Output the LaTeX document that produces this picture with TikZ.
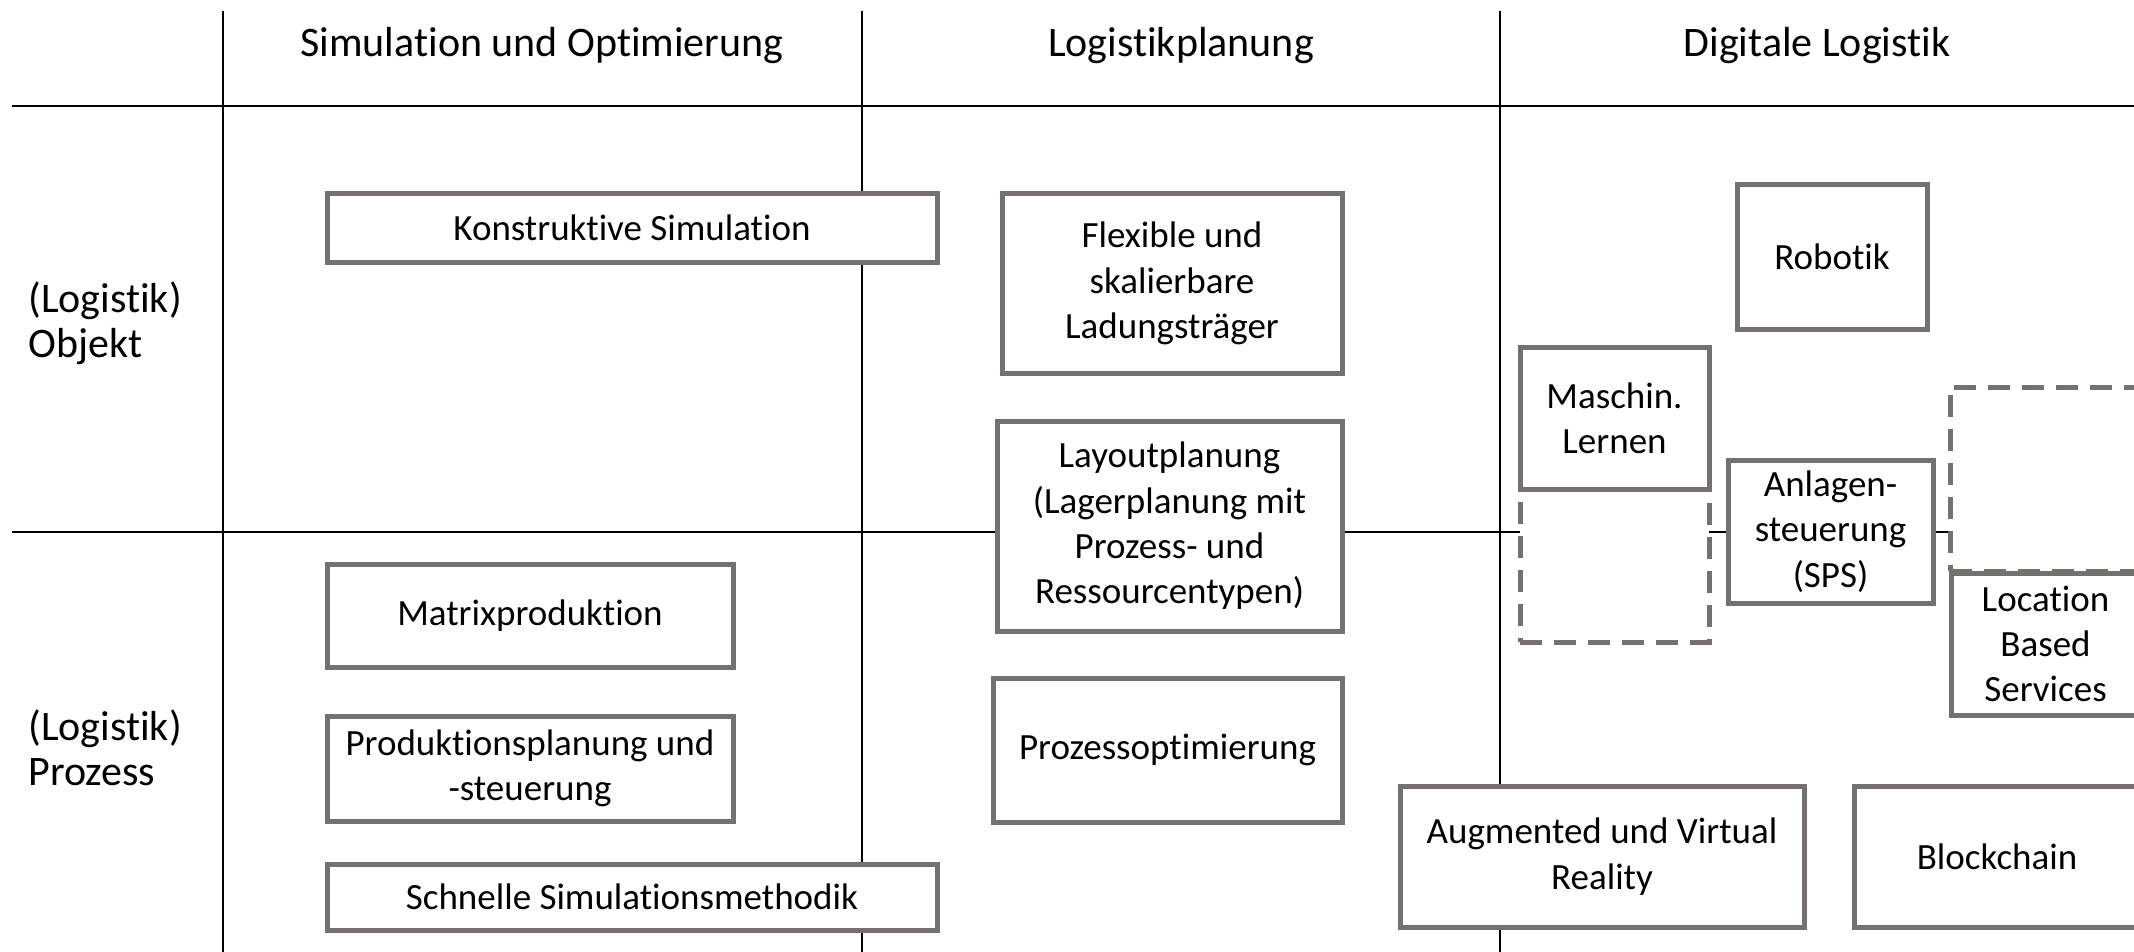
\documentclass[tikz,border=0pt]{standalone}
\usepackage{fontspec}
\setmainfont{Carlito}[Ligatures=NoCommon]
\definecolor{boxgray}{RGB}{118,113,113}
\begin{document}
\begin{tikzpicture}[x=0.5pt,y=-0.5pt,
  gridline/.style={line width=1.1pt,black},
  box/.style={draw=boxgray,line width=2.5pt,fill=white,inner sep=0pt,align=center,
    font=\fontsize{18.5}{22.7}\selectfont},
  dbox/.style={draw=boxgray,line width=2.5pt,fill=white,inner sep=0pt,dash pattern=on 11pt off 6pt},
  head/.style={font=\fontsize{21}{25}\selectfont,inner sep=0pt},
  rowlab/.style={font=\fontsize{21}{22.5}\selectfont,align=left,anchor=west,inner sep=0pt}]
\clip (0,0) rectangle (2134,952);
\fill[white] (0,0) rectangle (2134,952);
% grid
\coordinate (h1a) at (12,106);   \coordinate (h1b) at (2134,106);
\coordinate (h2a) at (12,532);   \coordinate (h2b) at (2134,532);
\coordinate (v1a) at (223,11);   \coordinate (v1b) at (223,952);
\coordinate (v2a) at (862,11);   \coordinate (v2b) at (862,952);
\coordinate (v3a) at (1500,11);  \coordinate (v3b) at (1500,952);
\draw[gridline] (h1a) -- (h1b);
\draw[gridline] (h2a) -- (h2b);
\draw[gridline] (v1a) -- (v1b);
\draw[gridline] (v2a) -- (v2b);
\draw[gridline] (v3a) -- (v3b);
% headers
\node[head] (hd1) at (542,46) {Simulation und Optimierung};
\node[head] (hd2) at (1181,46) {Logistikplanung};
\node[head] (hd3) at (1817,46) {Digitale Logistik};
% row labels
\node[rowlab] (r1) at (28,323) {(Logistik)\\Objekt};
\node[rowlab] (r2) at (28,748) {(Logistik)\\Prozess};
% column 1
\node[box,minimum width=305pt,minimum height=34pt] (ks) at (632,228) {Konstruktive Simulation};
\node[box,minimum width=203pt,minimum height=51.5pt] (mp) at (530,615.5) {Matrixproduktion};
\node[box,minimum width=203pt,minimum height=52.5pt] (pps) at (530,768.5) {Produktionsplanung und\\-steuerung};
\node[box,minimum width=305pt,minimum height=33pt] (ssm) at (632,897) {Schnelle Simulationsmethodik};
% column 2
\node[box,minimum width=170pt,minimum height=89.5pt] (flex) at (1172,283.5) {Flexible und\\skalierbare\\Ladungsträger};
\node[box,minimum width=172.5pt,minimum height=105pt] (lay) at (1169.5,526) {Layoutplanung\\(Lagerplanung mit\\Prozess- und\\Ressourcentypen)};
\node[box,minimum width=174.5pt,minimum height=72pt] (po) at (1167.5,750) {Prozessoptimierung};
% column 3
\node[dbox,minimum width=94.5pt,minimum height=76.5pt] (mlx) at (1614.5,565.5) {};
\node[dbox,minimum width=105pt,minimum height=92pt] (rx) at (2055,479) {};
\node[box,minimum width=95pt,minimum height=72pt] (rob) at (1832,257) {Robotik};
\node[box,minimum width=94.5pt,minimum height=71pt] (ml) at (1614.5,418) {Maschin.\\Lernen};
\node[box,minimum width=102.5pt,minimum height=71.5pt] (sps) at (1830.5,531.5) {Anlagen-\\steuerung\\(SPS)};
\node[box,minimum width=94.5pt,minimum height=71pt] (lbs) at (2045.5,644) {Location\\Based\\Services};
\node[box,minimum width=202pt,minimum height=70.5pt] (ar) at (1602,856.5) {Augmented und Virtual\\Reality};
\node[box,minimum width=143pt,minimum height=70.5pt] (bc) at (1997,856.5) {Blockchain};
\end{tikzpicture}
\end{document}
